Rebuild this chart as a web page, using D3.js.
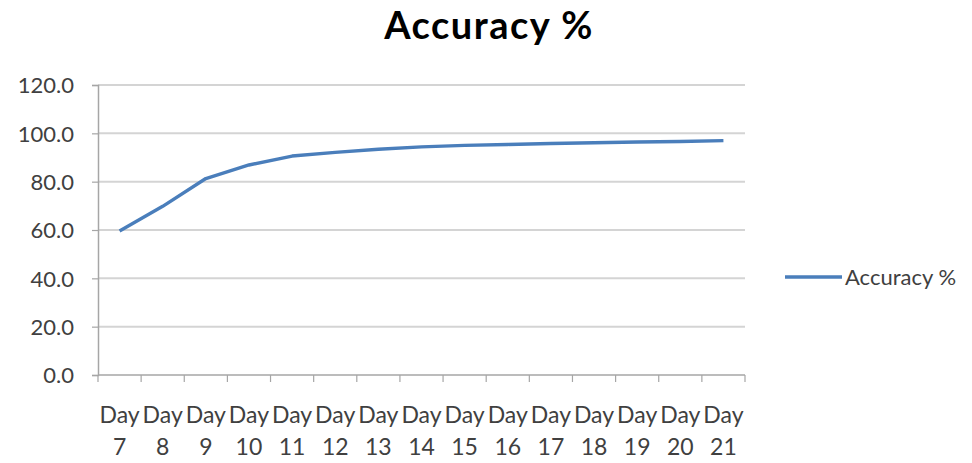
<!DOCTYPE html>
<html><head><meta charset="utf-8">
<script src="https://cdn.jsdelivr.net/npm/d3@7/dist/d3.min.js"></script>
<style>body{margin:0;background:#fff}svg{display:block}</style>
</head><body>
<svg id="c" width="972" height="463"></svg>
<script>
const categories = ["Day 7","Day 8","Day 9","Day 10","Day 11","Day 12","Day 13","Day 14","Day 15","Day 16","Day 17","Day 18","Day 19","Day 20","Day 21"];
const accuracy = [59.6, 69.8, 81.3, 86.9, 90.6, 92.1, 93.4, 94.4, 95.0, 95.4, 95.8, 96.1, 96.4, 96.6, 97.0];
const yTicks = [0, 20, 40, 60, 80, 100, 120];
const seriesName = "Accuracy %";
const title = "Accuracy %";

(function () {
const svg = d3.select("#c");
const font = "Lato, 'Open Sans', sans-serif";
const pLeft = 98, pRight = 745, pTop = 85, pBottom = 375;

const x = d3.scaleBand().domain(categories).range([pLeft, pRight]).padding(0);
const y = d3.scaleLinear().domain([0, 120]).range([pBottom, pTop]);

// gridlines
svg.append("g").selectAll("line").data(yTicks.filter(d => d > 0)).join("line")
  .attr("x1", pLeft).attr("x2", pRight).attr("y1", d => y(d)).attr("y2", d => y(d))
  .attr("stroke", "#d4d4d4").attr("stroke-width", 2);

// y axis
const yAxis = d3.axisLeft(y).tickValues(yTicks).tickSize(6).tickFormat(d3.format(".1f"));
const gy = svg.append("g").attr("transform", `translate(${pLeft},0)`).call(yAxis);
gy.select(".domain").attr("stroke", "#a6a6a6").attr("stroke-width", 1.5);
gy.selectAll(".tick line").attr("stroke", "#a6a6a6").attr("stroke-width", 1.2);
gy.selectAll(".tick text").attr("x", -24).attr("dy", "0.35em")
  .style("font-family", font).style("font-size", "22px").attr("fill", "#404040");

// x axis baseline with boundary ticks
svg.append("line").attr("x1", pLeft).attr("x2", pRight).attr("y1", pBottom).attr("y2", pBottom)
  .attr("stroke", "#a6a6a6").attr("stroke-width", 1.5);
const bounds = categories.map(c => x(c)).concat([pRight]);
svg.append("g").selectAll("line").data(bounds).join("line")
  .attr("x1", d => d).attr("x2", d => d).attr("y1", pBottom).attr("y2", pBottom + 7)
  .attr("stroke", "#a6a6a6").attr("stroke-width", 1.2);

// x labels (wrapped)
const xl = svg.append("g").selectAll("text").data(categories).join("text")
  .attr("x", d => x(d) + x.bandwidth() / 2).attr("y", 423)
  .attr("text-anchor", "middle").style("font-family", font).style("font-size", "23px").attr("fill", "#404040");
xl.append("tspan").attr("x", d => x(d) + x.bandwidth() / 2).text(d => d.split(" ")[0]);
xl.append("tspan").attr("x", d => x(d) + x.bandwidth() / 2).attr("dy", 32).text(d => d.split(" ")[1]);

// line
const line = d3.line().x((d, i) => x(categories[i]) + x.bandwidth() / 2).y(d => y(d));
svg.append("path").datum(accuracy).attr("d", line)
  .attr("fill", "none").attr("stroke", "#4a7ebb").attr("stroke-width", 3.4)
  .attr("stroke-linejoin", "round");

// legend
svg.append("line").attr("x1", 785).attr("x2", 842).attr("y1", 277).attr("y2", 277)
  .attr("stroke", "#4a7ebb").attr("stroke-width", 3.4);
svg.append("text").attr("x", 845).attr("y", 285).text(seriesName)
  .style("font-family", font).style("font-size", "22px").attr("fill", "#404040");

// title
svg.append("text").attr("x", 489).attr("y", 39).attr("text-anchor", "middle").text(title)
  .style("font-family", font).style("font-size", "38px").style("font-weight", "bold")
  .style("letter-spacing", "1.5px").attr("fill", "#000");
})();
</script>
</body></html>
